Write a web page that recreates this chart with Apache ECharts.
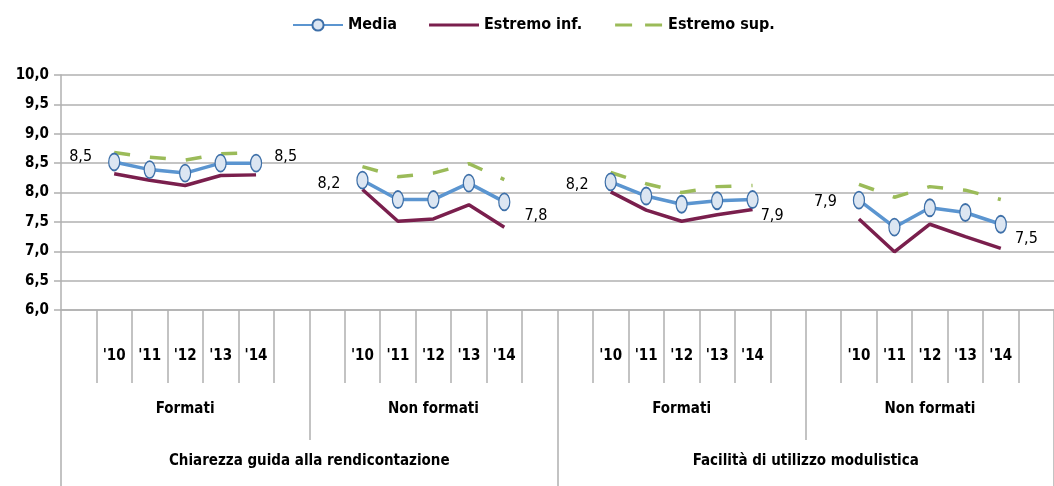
<!DOCTYPE html>
<html>
<head>
<meta charset="utf-8">
<script src="https://cdn.jsdelivr.net/npm/echarts@6/dist/echarts.min.js"></script>
<style>html,body{margin:0;padding:0;background:#fff}#c{width:1054px;height:486px}</style>
</head>
<body>
<div id="c"></div>
<script>
// ---- data ----
const years = ["'10", "'11", "'12", "'13", "'14"];
const subGroups = ['Formati', 'Non formati', 'Formati', 'Non formati'];
const mainGroups = ['Chiarezza guida alla rendicontazione', 'Facilità di utilizzo modulistica'];
const yTicks = [6.0, 6.5, 7.0, 7.5, 8.0, 8.5, 9.0, 9.5, 10.0];
// values per subgroup (5 years each)
const media = [
  [8.52, 8.39, 8.33, 8.50, 8.50],
  [8.21, 7.88, 7.88, 8.16, 7.84],
  [8.18, 7.94, 7.80, 7.86, 7.88],
  [7.87, 7.41, 7.74, 7.66, 7.46]
];
const estremoInf = [
  [8.32, 8.21, 8.12, 8.29, 8.30],
  [8.05, 7.51, 7.55, 7.79, 7.41],
  [8.01, 7.70, 7.51, 7.62, 7.71],
  [7.55, 6.99, 7.46, 7.25, 7.05]
];
const estremoSup = [
  [8.68, 8.60, 8.55, 8.66, 8.68],
  [8.44, 8.27, 8.33, 8.49, 8.22],
  [8.34, 8.15, 8.00, 8.10, 8.12],
  [8.14, 7.92, 8.10, 8.04, 7.88]
];

// ---- styling helpers (not data) ----
const FONT = '"Liberation Sans Narrow", "Arial Narrow", "DejaVu Sans Condensed", sans-serif';
const GRID_COLOR = '#b0b0b0';
const firstLabelOffsets = [[0, -5], [0, 4], [0, 3], [0, 2]];
const lastLabelOffsets = [[2, -6], [4, 14], [-8, 16], [-2, 15]];
const ICON_SOLID = 'path://M0,0H0.01V0.01H0Z M0,5.5H50V8.5H0Z M0,14H0.01V14.01H0Z';
const ICON_DASHED = 'path://M0,0H0.01V0.01H0Z M1,5.5H18V8.5H1Z M31,5.5H48V8.5H31Z M0,14H0.01V14.01H0Z';

// build 28-slot category list
const categories = [];
subGroups.forEach(() => { categories.push(''); years.forEach(y => categories.push(y)); categories.push(''); });

function build(groups, withLabels) {
  const out = [];
  groups.forEach((vals, g) => {
    out.push(null);
    vals.forEach((v, i) => {
      if (withLabels && (i === 0 || i === vals.length - 1)) {
        const first = i === 0;
        out.push({
          value: v,
          label: {
            show: true,
            position: first ? 'left' : 'right',
            distance: first ? 16 : 10,
            offset: first ? firstLabelOffsets[g] : lastLabelOffsets[g]
          }
        });
      } else out.push(v);
    });
    out.push(null);
  });
  return out;
}

const chart = echarts.init(document.getElementById('c'), null, { renderer: 'canvas' });
chart.setOption({
  animation: false,
  textStyle: { fontFamily: FONT },
  legend: {
    top: 12, left: 287, itemGap: 32, itemWidth: 50, itemHeight: 14,
    textStyle: { fontFamily: FONT, fontWeight: 'bold', fontSize: 16, color: '#000' },
    data: [
      { name: 'Media' },
      { name: 'Estremo inf.', icon: ICON_SOLID },
      { name: 'Estremo sup.', icon: ICON_DASHED }
    ]
  },
  grid: { left: 61, right: -6, top: 75, bottom: 176, containLabel: false },
  xAxis: [
    {
      type: 'category', data: categories, position: 'bottom', boundaryGap: true,
      axisLine: { show: true, lineStyle: { color: GRID_COLOR, width: 1.5 } },
      axisTick: { show: true, interval: 0, length: 73, lineStyle: { color: GRID_COLOR, width: 1.5 } },
      axisLabel: { interval: 0, margin: 39, fontFamily: FONT, fontWeight: 'bold', fontSize: 15, color: '#000' },
      splitLine: { show: false }
    },
    {
      type: 'category', data: subGroups, position: 'bottom', boundaryGap: true,
      axisLine: { show: false },
      axisTick: { show: true, interval: 0, length: 130, lineStyle: { color: GRID_COLOR, width: 1.5 } },
      axisLabel: { interval: 0, margin: 92, fontFamily: FONT, fontWeight: 'bold', fontSize: 15, color: '#000' },
      splitLine: { show: false }
    },
    {
      type: 'category', data: mainGroups, position: 'bottom', boundaryGap: true,
      axisLine: { show: false },
      axisTick: { show: true, interval: 0, length: 180, lineStyle: { color: GRID_COLOR, width: 1.5 } },
      axisLabel: { interval: 0, margin: 144, fontFamily: FONT, fontWeight: 'bold', fontSize: 15, color: '#000' },
      splitLine: { show: false }
    }
  ],
  yAxis: {
    type: 'value', min: yTicks[0], max: yTicks[yTicks.length - 1], interval: 0.5,
    axisLine: { show: true, lineStyle: { color: GRID_COLOR, width: 1.5 } },
    axisTick: { show: true, length: 7, lineStyle: { color: GRID_COLOR, width: 1.5 } },
    axisLabel: {
      margin: 12, fontFamily: FONT, fontWeight: 'bold', fontSize: 15, color: '#000',
      formatter: v => v.toFixed(1).replace('.', ',')
    },
    splitLine: { show: true, lineStyle: { color: GRID_COLOR, width: 1.5 } }
  },
  series: [
    {
      name: 'Estremo inf.', type: 'line', xAxisIndex: 0, data: build(estremoInf, false),
      symbol: 'none', connectNulls: false, z: 2,
      lineStyle: { color: '#7a1f4d', width: 3.5 }, itemStyle: { color: '#7a1f4d' }
    },
    {
      name: 'Estremo sup.', type: 'line', xAxisIndex: 0, data: build(estremoSup, false),
      symbol: 'none', connectNulls: false, z: 2,
      lineStyle: { color: '#9bbb59', width: 3.5, type: [16, 20] }, itemStyle: { color: '#9bbb59' }
    },
    {
      name: 'Media', type: 'line', xAxisIndex: 0, data: build(media, true),
      symbol: 'circle', symbolSize: [11, 17], connectNulls: false, z: 3,
      lineStyle: { color: '#5b95d0', width: 3.5 },
      itemStyle: { color: '#dce6f2', borderColor: '#3d6fa8', borderWidth: 1.5 },
      label: {
        show: false, fontFamily: FONT, fontSize: 16, color: '#000',
        formatter: p => p.value.toFixed(1).replace('.', ',')
      }
    }
  ]
});
</script>
</body>
</html>
